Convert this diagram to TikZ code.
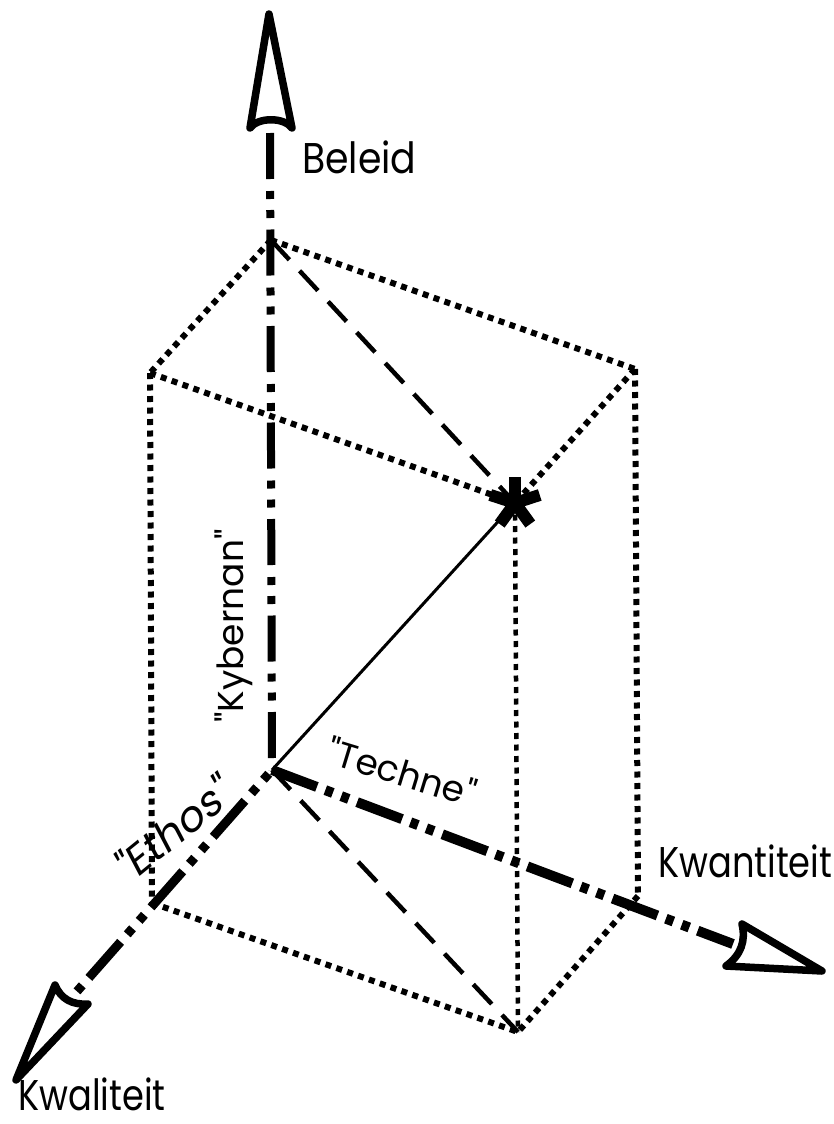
\documentclass[tikz,border=0pt]{standalone}
\usepackage{fontspec}
\setmainfont{Poppins}[FakeStretch=0.88]
\newfontfamily\narrowfont{Poppins}[FakeStretch=0.82]
\newfontfamily\greekfont{Poppins}
\newfontfamily\slfont{Poppins}[FakeSlant=0.2]
\begin{document}
\begin{tikzpicture}[x=1pt,y=-1pt,
  boxedge/.style={line width=6pt,dash pattern=on 6pt off 5.5pt,line cap=butt},
  diag/.style={line width=4.5pt,dash pattern=on 27pt off 15pt,line cap=butt},
  axisline/.style={line cap=butt},
  headstyle/.style={draw=black,fill=white,line width=7.5pt,line join=round},
  axlabel/.style={inner sep=0pt,font=\fontsize{43}{43}\selectfont},
  greeklabel/.style={inner sep=0pt,font=\fontsize{36}{36}\greekfont}]
\useasboundingbox (0,0) rectangle (834,1124);
\fill[white] (0,0) rectangle (834,1124);
% box corners
\coordinate (A)  at (271,240);
\coordinate (AE) at (150,373);
\coordinate (AQ) at (635,369);
\coordinate (S)  at (515,503);
\coordinate (O)  at (272,770);
\coordinate (E)  at (152,903);
\coordinate (Q)  at (638,896);
\coordinate (EQ) at (518,1032);
% axis ends
\coordinate (Vtop) at (270,133);
\coordinate (Rback) at (733,944);
\coordinate (Lback) at (72,997);
% box edges (dotted)
\draw[boxedge] (A) -- (AE);
\draw[boxedge] (A) -- (AQ);
\draw[boxedge] (AE) -- (S);
\draw[boxedge] (AQ) -- (S);
\draw[boxedge] (AE) -- (E);
\draw[boxedge] (AQ) -- (Q);
\draw[boxedge,line width=4.5pt] (S) -- (EQ);
\draw[boxedge] (E) -- (EQ);
\draw[boxedge] (Q) -- (EQ);
% diagonals
\draw[diag] (A) -- (S);
\draw[diag] (O) -- (EQ);
\draw[line width=3pt] (O) -- (S);
% axes
\draw[axisline,line width=8pt,dash pattern=on 46pt off 12pt on 8pt off 11pt on 8pt off 11.5pt] (Vtop) -- (O);
\draw[axisline,line width=10pt,dash pattern=on 48pt off 9pt on 8pt off 9pt on 8pt off 9pt] (O) -- (Rback);
\draw[axisline,line width=9pt,dash pattern=on 48pt off 10pt on 8pt off 10pt on 8pt off 10pt,dash phase=53pt] (O) -- (Lback);
% arrowheads
\coordinate (VT) at (269,14);
\coordinate (VL) at (250,128);
\coordinate (VR) at (292,128);
\draw[headstyle] (VT) -- (VL) .. controls (258,117) and (284,117) .. (VR) -- cycle;
\coordinate (RT) at (822,971);
\coordinate (RA) at (742,924);
\coordinate (RB) at (726,966);
\draw[headstyle] (RT) -- (RA) .. controls (746,941) and (741,955) .. (RB) -- cycle;
\coordinate (LT) at (16,1080);
\coordinate (LA) at (55,985);
\coordinate (LB) at (88,1004);
\draw[headstyle] (LT) -- (LA) .. controls (61,999) and (72,1005) .. (LB) -- cycle;
% star
\foreach \ang in {-90,-162,-18,-234,-306}
  \draw[line width=12pt] (S) -- ++(\ang:26);
% labels
\node[axlabel,anchor=base west] (beleid) at (302,173) {Beleid};
\node[axlabel,anchor=base west] (kwant) at (658,877) {\narrowfont Kwantiteit};
\node[axlabel,anchor=base west] (kwal) at (18,1110) {\narrowfont Kwaliteit};
\node[greeklabel,anchor=base,rotate=90] (kyb) at (243,626) {"Kybernan"};
\node[greeklabel,anchor=base,rotate=-17] (tech) at (398,785) {"Techne"};
\node[greeklabel,anchor=center,rotate=39] (eth) at (171,830) {\fontsize{42}{42}\slfont "Ethos"};
\end{tikzpicture}
\end{document}
